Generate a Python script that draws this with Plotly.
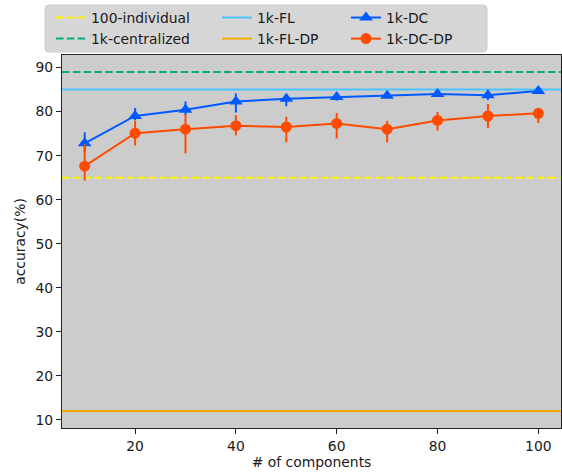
import plotly.graph_objects as go

# ---------------- data ----------------
components = [10, 20, 30, 40, 50, 60, 70, 80, 90, 100]

dc_acc = [72.8, 79.0, 80.4, 82.3, 82.9, 83.3, 83.6, 84.0, 83.7, 84.7]
dc_err_plus = [2.5, 1.8, 1.9, 1.8, 1.1, 0.8, 0.5, 0.6, 1.0, 0.5]
dc_err_minus = [2.0, 1.0, 1.2, 2.5, 1.7, 0.8, 0.5, 0.6, 1.1, 0.5]

dcdp_acc = [67.6, 75.1, 76.0, 76.8, 76.5, 77.3, 76.0, 78.0, 79.0, 79.6]
dcdp_err_plus = [5.0, 2.8, 3.4, 2.4, 2.3, 2.4, 1.9, 1.9, 2.7, 0.8]
dcdp_err_minus = [3.3, 2.8, 5.5, 2.2, 3.5, 3.4, 3.0, 2.3, 2.7, 2.2]

hline_names = ["100-individual", "1k-centralized", "1k-FL", "1k-FL-DP"]
hline_values = [65.0, 89.0, 85.0, 12.0]

x_title = "# of components"
y_title = "accuracy(%)"
x_ticks = [20, 40, 60, 80, 100]
y_ticks = [10, 20, 30, 40, 50, 60, 70, 80, 90]

# ---------------- styles ----------------
FONT = "DejaVu Sans"
FS = 13.9
c_yellow = "#FFF100"
c_green = "#03AF7A"
c_sky = "#4DC4FF"
c_orange = "#F6AA00"
c_blue = "#005AFF"
c_red = "#FF4B00"
DASH = "7.5px,3.3px"

# matplotlib-like 5% margins
xmin, xmax = min(components), max(components)
xr = [xmin - 0.05 * (xmax - xmin), xmax + 0.05 * (xmax - xmin)]
all_y = hline_values + dc_acc + dcdp_acc
ymin, ymax = min(all_y), max(all_y)
yr = [ymin - 0.05 * (ymax - ymin), ymax + 0.05 * (ymax - ymin)]

W, H = 562, 474
ML, MR, MT, MB = 62, 1, 55, 46
PW, PH = W - ML - MR, H - MT - MB


def px2paper_x(px):
    return (px - ML) / PW


def px2paper_y(py):
    return (H - MB - py) / PH


fig = go.Figure()

hl_styles = [
    (c_yellow, DASH, "legend"),
    (c_green, DASH, "legend"),
    (c_sky, "solid", "legend2"),
    (c_orange, "solid", "legend2"),
]
for name, val, (col, dash, lg) in zip(hline_names, hline_values, hl_styles):
    fig.add_trace(go.Scatter(
        x=xr, y=[val, val], mode="lines", name=name,
        line=dict(color=col, width=2, dash=dash), legend=lg,
        legendgroup=name,
    ))

fig.add_trace(go.Scatter(
    x=components, y=dc_acc, mode="lines+markers", name="1k-DC",
    line=dict(color=c_blue, width=2),
    marker=dict(symbol="triangle-up", size=12, color=c_blue),
    error_y=dict(type="data", array=dc_err_plus, arrayminus=dc_err_minus,
                 symmetric=False, color=c_blue, thickness=2, width=0),
    legend="legend3", legendgroup="1k-DC",
))
fig.add_trace(go.Scatter(
    x=components, y=dcdp_acc, mode="lines+markers", name="1k-DC-DP",
    line=dict(color=c_red, width=2),
    marker=dict(symbol="circle", size=11, color=c_red),
    error_y=dict(type="data", array=dcdp_err_plus, arrayminus=dcdp_err_minus,
                 symmetric=False, color=c_red, thickness=2, width=0),
    legend="legend3", legendgroup="1k-DC-DP",
))

# legend frame (rounded) drawn as a shape
bx0, bx1, by0, by1 = 45, 487, 5, 52
r = 4
path = (
    f"M {px2paper_x(bx0 + r)},{px2paper_y(by0)} "
    f"L {px2paper_x(bx1 - r)},{px2paper_y(by0)} "
    f"Q {px2paper_x(bx1)},{px2paper_y(by0)} {px2paper_x(bx1)},{px2paper_y(by0 + r)} "
    f"L {px2paper_x(bx1)},{px2paper_y(by1 - r)} "
    f"Q {px2paper_x(bx1)},{px2paper_y(by1)} {px2paper_x(bx1 - r)},{px2paper_y(by1)} "
    f"L {px2paper_x(bx0 + r)},{px2paper_y(by1)} "
    f"Q {px2paper_x(bx0)},{px2paper_y(by1)} {px2paper_x(bx0)},{px2paper_y(by1 - r)} "
    f"L {px2paper_x(bx0)},{px2paper_y(by0 + r)} "
    f"Q {px2paper_x(bx0)},{px2paper_y(by0)} {px2paper_x(bx0 + r)},{px2paper_y(by0)} Z"
)
fig.add_shape(type="path", path=path, xref="paper", yref="paper",
              fillcolor="#d6d6d6", line=dict(color="#cccccc", width=1),
              layer="above")

leg_common = dict(
    orientation="v", bgcolor="rgba(0,0,0,0)", borderwidth=0,
    font=dict(family=FONT, size=FS, color="#1a1a1a"),
    yanchor="top", xanchor="left", tracegroupgap=0,
    y=px2paper_y(2),
)
fig.update_layout(
    legend=dict(x=px2paper_x(51), **leg_common),
    legend2=dict(x=px2paper_x(217), **leg_common),
    legend3=dict(x=px2paper_x(346), **leg_common),
)

axis_common = dict(
    showgrid=False, zeroline=False, showline=True, mirror=True,
    linecolor="#222222", linewidth=1.2, ticks="outside", ticklen=5,
    tickwidth=1, tickcolor="#222222",
    tickfont=dict(family=FONT, size=FS, color="#1a1a1a"),
)
fig.update_xaxes(range=xr, tickvals=x_ticks,
                 title=dict(text=x_title, font=dict(family=FONT, size=FS, color="#1a1a1a"), standoff=4),
                 **axis_common)
fig.update_yaxes(range=yr, tickvals=y_ticks,
                 title=dict(text=y_title, font=dict(family=FONT, size=FS, color="#1a1a1a"), standoff=6),
                 **axis_common)

fig.update_layout(
    width=W, height=H,
    margin=dict(l=ML, r=MR, t=MT, b=MB, autoexpand=False),
    paper_bgcolor="white", plot_bgcolor="#cccccc",
    showlegend=True,
    font=dict(family=FONT, size=FS),
)

fig.write_html("out.html",
               config={"displayModeBar": False},
               post_script="document.body.style.margin='0';document.body.style.overflow='hidden';")
